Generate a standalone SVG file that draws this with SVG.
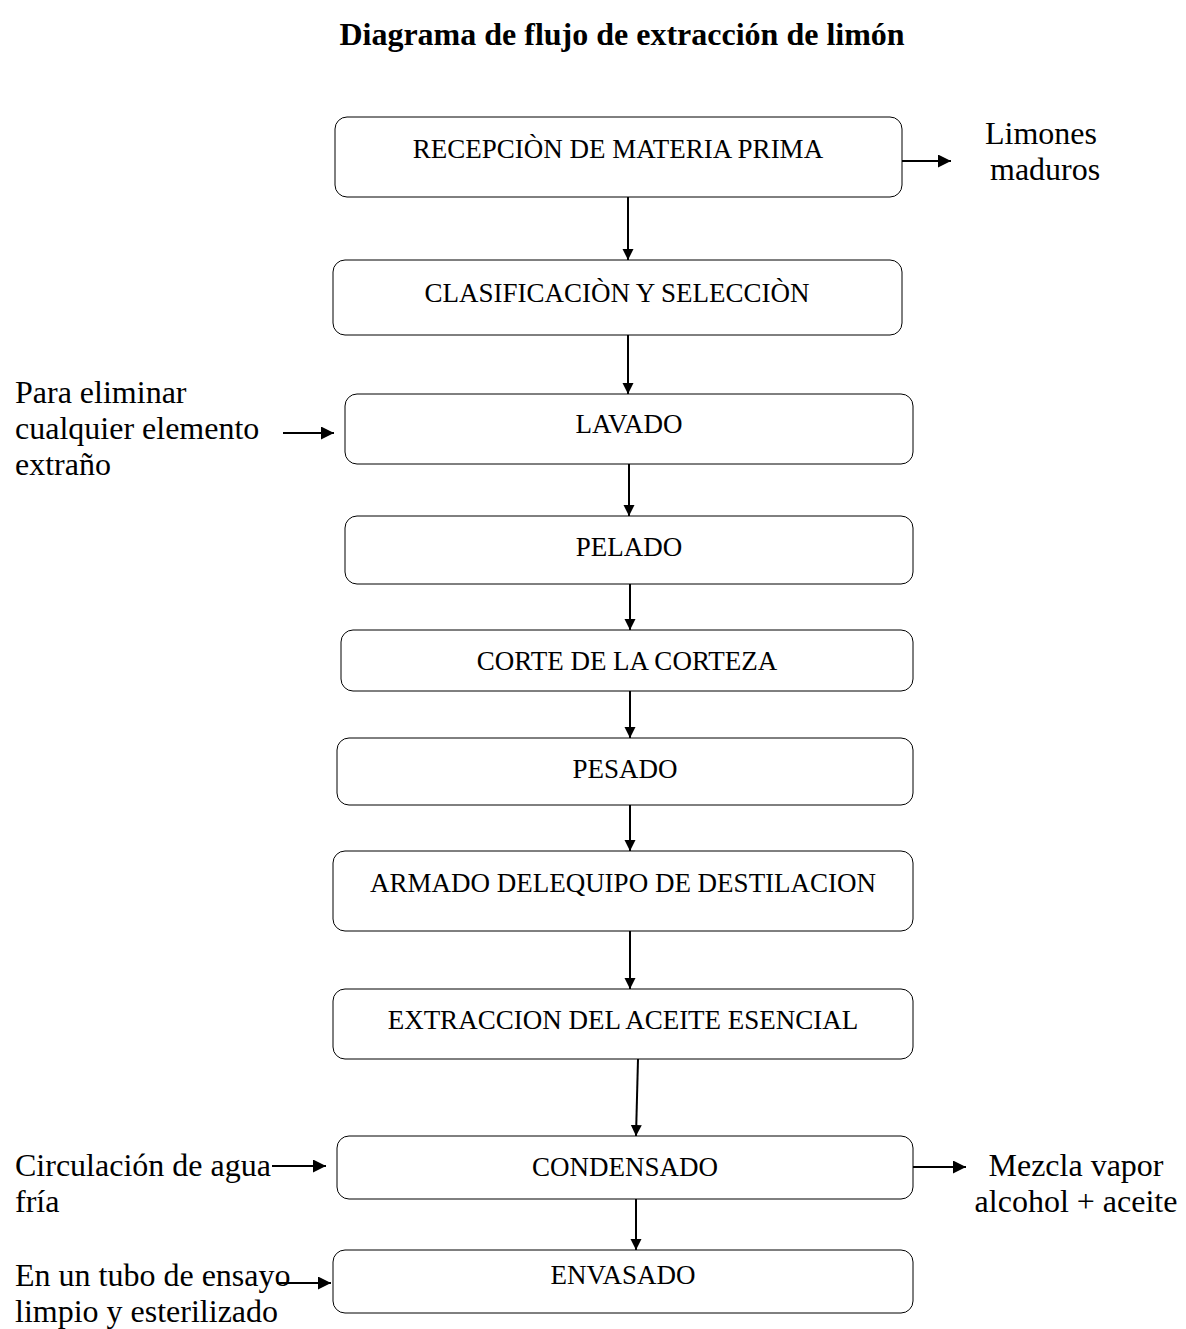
<svg xmlns="http://www.w3.org/2000/svg" width="1186" height="1329" viewBox="0 0 1186 1329">
<defs>
<marker id="ah" viewBox="0 0 10 10" refX="10" refY="5" markerWidth="11" markerHeight="12" markerUnits="userSpaceOnUse" orient="auto"><path d="M0,0 L10,5 L0,10 z" fill="#000"/></marker>
<marker id="ahw" viewBox="0 0 10 10" refX="10" refY="5" markerWidth="16" markerHeight="13" markerUnits="userSpaceOnUse" orient="auto"><path d="M0,0 L10,5 L0,10 z" fill="#000"/></marker>
</defs>
<style>
.box{fill:#fff;stroke:#000;stroke-width:1}
.bt{font-family:"Liberation Serif",serif;font-size:27px;fill:#000;text-anchor:middle}
.lt{font-family:"Liberation Serif",serif;font-size:32px;fill:#000}
.title{font-family:"Liberation Serif",serif;font-size:32px;font-weight:bold;fill:#000;text-anchor:middle}
.c{stroke:#000;stroke-width:2;fill:none}
</style>
<rect width="1186" height="1329" fill="#fff"/>
<text class="title" x="622" y="45">Diagrama de flujo de extracción de limón</text>

<g id="n1"><rect class="box" x="335" y="117" width="567" height="80" rx="12"/><text class="bt" x="618" y="158">RECEPCIÒN DE MATERIA PRIMA</text></g>
<g id="n2"><rect class="box" x="333" y="260" width="569" height="75" rx="12"/><text class="bt" x="617" y="302">CLASIFICACIÒN Y SELECCIÒN</text></g>
<g id="n3"><rect class="box" x="345" y="394" width="568" height="70" rx="12"/><text class="bt" x="629" y="433">LAVADO</text></g>
<g id="n4"><rect class="box" x="345" y="516" width="568" height="68" rx="12"/><text class="bt" x="629" y="556">PELADO</text></g>
<g id="n5"><rect class="box" x="341" y="630" width="572" height="61" rx="12"/><text class="bt" x="627" y="670">CORTE DE LA CORTEZA</text></g>
<g id="n6"><rect class="box" x="337" y="738" width="576" height="67" rx="12"/><text class="bt" x="625" y="778">PESADO</text></g>
<g id="n7"><rect class="box" x="333" y="851" width="580" height="80" rx="12"/><text class="bt" x="623" y="892">ARMADO DELEQUIPO DE DESTILACION</text></g>
<g id="n8"><rect class="box" x="333" y="989" width="580" height="70" rx="12"/><text class="bt" x="623" y="1029">EXTRACCION DEL ACEITE ESENCIAL</text></g>
<g id="n9"><rect class="box" x="337" y="1136" width="576" height="63" rx="12"/><text class="bt" x="625" y="1176">CONDENSADO</text></g>
<g id="n10"><rect class="box" x="333" y="1250" width="580" height="63" rx="12"/><text class="bt" x="623" y="1284">ENVASADO</text></g>

<g id="l1"><text class="lt" x="985" y="144">Limones</text><text class="lt" x="990" y="180">maduros</text></g>
<g id="l2"><text class="lt" x="15" y="403">Para eliminar</text><text class="lt" x="15" y="439">cualquier elemento</text><text class="lt" x="15" y="475">extraño</text></g>
<g id="l3"><text class="lt" x="15" y="1176">Circulación de agua</text><text class="lt" x="15" y="1212">fría</text></g>
<g id="l4"><text class="lt" x="15" y="1286">En un tubo de ensayo</text><text class="lt" x="15" y="1322">limpio y esterilizado</text></g>
<g id="l5"><text class="lt" x="1076" y="1176" text-anchor="middle">Mezcla vapor</text><text class="lt" x="1076" y="1212" text-anchor="middle">alcohol + aceite</text></g>

<g id="connectors">
<line class="c" x1="628" y1="197" x2="628" y2="260" marker-end="url(#ah)"/>
<line class="c" x1="628" y1="335" x2="628" y2="394" marker-end="url(#ah)"/>
<line class="c" x1="629" y1="464" x2="629" y2="516" marker-end="url(#ah)"/>
<line class="c" x1="630" y1="584" x2="630" y2="630" marker-end="url(#ah)"/>
<line class="c" x1="630" y1="691" x2="630" y2="738" marker-end="url(#ah)"/>
<line class="c" x1="630" y1="805" x2="630" y2="851" marker-end="url(#ah)"/>
<line class="c" x1="630" y1="931" x2="630" y2="989" marker-end="url(#ah)"/>
<line class="c" x1="638" y1="1059" x2="636" y2="1136" marker-end="url(#ah)"/>
<line class="c" x1="636" y1="1199" x2="636" y2="1250" marker-end="url(#ah)"/>
<line class="c" x1="902" y1="161" x2="951" y2="161" marker-end="url(#ahw)"/>
<line class="c" x1="283" y1="433" x2="334" y2="433" marker-end="url(#ahw)"/>
<line class="c" x1="272" y1="1166" x2="326" y2="1166" marker-end="url(#ahw)"/>
<line class="c" x1="913" y1="1167" x2="966" y2="1167" marker-end="url(#ahw)"/>
<line class="c" x1="277" y1="1283" x2="331" y2="1283" marker-end="url(#ahw)"/>
</g>
</svg>
